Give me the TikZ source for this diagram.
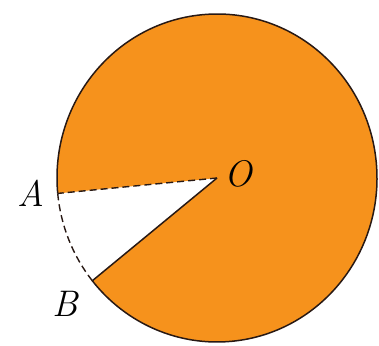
\documentclass[tikz,border=0pt]{standalone}
\usepackage{tikz}
\usetikzlibrary{calc}
\definecolor{sectorfill}{RGB}{246,146,28}
\definecolor{rim}{RGB}{40,25,20}

\begin{document}
\begin{tikzpicture}[
      x=1pt,y=-1pt,
      rimline/.style={draw=rim,line width=1.5pt},
      cutline/.style={draw=rim,line width=1.4pt,dash pattern=on 7pt off 4pt},
      lbl/.style={font=\fontsize{37}{37}\selectfont\itshape,inner sep=0pt}
    ]
      \useasboundingbox (0,0) rectangle (379,345);
      % centre and the two cut points
      \coordinate (O) at (217,178);
      \coordinate (A) at ($(O)+(185.4:160 and -164)$);
      \coordinate (B) at ($(O)+(218.8:160 and -164)$);

      \fill[sectorfill] (O) -- (A) arc[start angle=185.4,end angle=-141.2,
        x radius=160,y radius=-164] -- cycle;
      \draw[rimline] (A) arc[start angle=185.4,end angle=-141.2,
        x radius=160,y radius=-164];
      \draw[rimline] (O) -- (B);
      \draw[cutline] (O) -- (A);
      \draw[cutline] (A) arc[start angle=185.4,end angle=218.8,
        x radius=160,y radius=-164];

      \node[lbl] (lA) at (31,193) {A};
      \node[lbl] (lB) at (65,304) {B};
      \node[lbl] (lO) at (238,174) {O};
    \end{tikzpicture}
\end{document}
